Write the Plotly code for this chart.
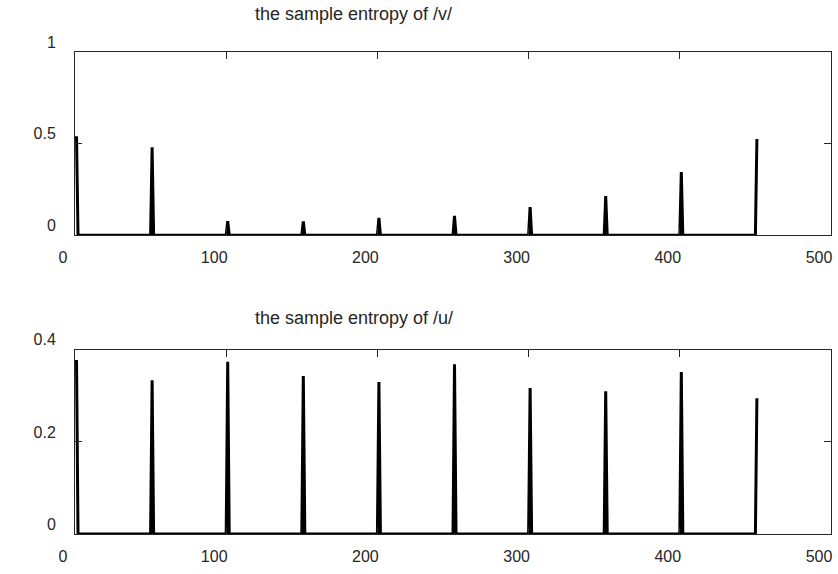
import plotly.graph_objects as go
from plotly.subplots import make_subplots

# ---- data ----
peak_x = [1, 51, 101, 151, 201, 251, 301, 351, 401, 451]
v_values = [0.54, 0.48, 0.077, 0.075, 0.094, 0.105, 0.153, 0.213, 0.344, 0.525]
u_values = [0.378, 0.334, 0.374, 0.343, 0.330, 0.369, 0.317, 0.310, 0.352, 0.295]

x_ticks = [0, 100, 200, 300, 400, 500]
v_yticks = [0, 0.5, 1]
u_yticks = [0, 0.2, 0.4]
titles = ["the sample entropy of /v/", "the sample entropy of /u/"]


def spikes(px, vals):
    """Series is zero between frames, with one nonzero sample per frame."""
    xs, ys = [], []
    for i, (p, v) in enumerate(zip(px, vals)):
        if i > 0:
            xs.append(p - 1)
            ys.append(0)
        xs.append(p)
        ys.append(v)
        if i < len(px) - 1:
            xs.append(p + 1)
            ys.append(0)
    return xs, ys


FONT = "Liberation Sans, Arial, sans-serif"
TXT = "#262626"
TICK_SIZE = 16
TITLE_SIZE = 18

fig = make_subplots(rows=2, cols=1, vertical_spacing=0.0)

for r, vals in ((1, v_values), (2, u_values)):
    xs, ys = spikes(peak_x, vals)
    fig.add_trace(
        go.Scatter(x=xs, y=ys, mode="lines",
                   line=dict(color="black", width=3),
                   showlegend=False, hoverinfo="skip"),
        row=r, col=1)

axis_common = dict(
    showgrid=False, zeroline=False, showline=True, linecolor="#262626",
    linewidth=1, mirror="ticks", ticks="inside", ticklen=7, tickwidth=1,
    tickcolor="#262626", tickfont=dict(family=FONT, size=TICK_SIZE, color=TXT),
)

for r in (1, 2):
    fig.update_xaxes(range=[0, 500], tickvals=x_ticks,
                     ticktext=[str(t) for t in x_ticks],
                     ticklabelshift=-12, ticklabelstandoff=8,
                     **axis_common, row=r, col=1)

fig.update_yaxes(range=[0, 1], tickvals=v_yticks,
                 ticktext=["0", "0.5", "1"],
                 ticklabelshift=-10, ticklabelstandoff=15,
                 **axis_common, row=1, col=1)
fig.update_yaxes(range=[0, 0.4], tickvals=u_yticks,
                 ticktext=["0", "0.2", "0.4"],
                 ticklabelshift=-10, ticklabelstandoff=15,
                 **axis_common, row=2, col=1)

fig.update_layout(
    width=838, height=574,
    margin=dict(l=75, r=7, t=52, b=40),
    paper_bgcolor="white", plot_bgcolor="white",
    xaxis=dict(domain=[0, 1]), xaxis2=dict(domain=[0, 1]),
    yaxis=dict(domain=[0.620, 1.0]), yaxis2=dict(domain=[0.0, 0.382]),
    font=dict(family=FONT, size=TICK_SIZE, color=TXT),
)

fig.add_annotation(text=titles[0], xref="paper", yref="paper",
                   x=0.369, y=1.079, showarrow=False,
                   xanchor="center", yanchor="middle",
                   font=dict(family=FONT, size=TITLE_SIZE, color=TXT))
fig.add_annotation(text=titles[1], xref="paper", yref="paper",
                   x=0.369, y=0.448, showarrow=False,
                   xanchor="center", yanchor="middle",
                   font=dict(family=FONT, size=TITLE_SIZE, color=TXT))

fig.write_html("out.html")
